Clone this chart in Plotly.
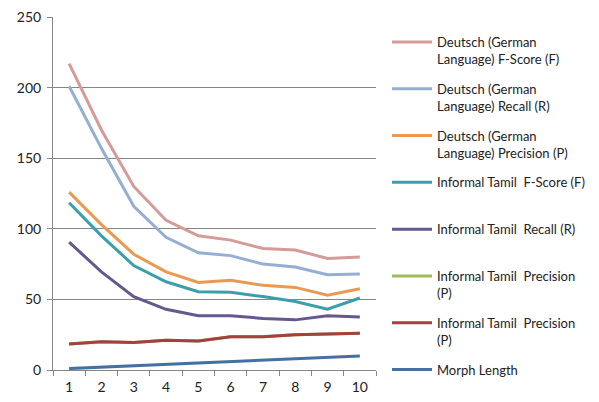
import plotly.graph_objects as go

# Morph length categories on the x axis
categories = ["1", "2", "3", "4", "5", "6", "7", "8", "9", "10"]

de_fscore = [217, 170, 130, 106, 95, 92, 86, 85, 79, 80]
de_recall = [201, 157, 116, 94, 83, 81, 75, 73, 67.5, 68]
de_precision = [126, 103, 82, 69.5, 62, 63.5, 60, 58.5, 53, 57.5]
ta_fscore = [118.5, 95, 74, 62.5, 55.5, 55, 52, 48.5, 43, 51]
ta_recall = [90.5, 69.5, 52, 43, 38.5, 38.5, 36.5, 35.5, 38.5, 37.5]
ta_precision_a = [18.5, 20, 19.5, 21, 20.5, 23.5, 23.5, 25, 25.5, 26]
ta_precision_b = [18.5, 20, 19.5, 21, 20.5, 23.5, 23.5, 25, 25.5, 26]
morph_length = [1, 2, 3, 4, 5, 6, 7, 8, 9, 10]

series = [
    ("Deutsch (German<br>Language) F-Score (F)", de_fscore, "#D59B99"),
    ("Deutsch (German<br>Language) Recall (R)", de_recall, "#95AED3"),
    ("Deutsch (German<br>Language) Precision (P)", de_precision, "#E99A50"),
    ("Informal Tamil  F-Score (F)<br> ", ta_fscore, "#3A9FAA"),
    ("Informal Tamil  Recall (R)<br> ", ta_recall, "#67578F"),
    ("Informal Tamil  Precision<br>(P)", ta_precision_a, "#9BBB59"),
    ("Informal Tamil  Precision<br>(P)", ta_precision_b, "#A6403E"),
    ("Morph Length<br> ", morph_length, "#44719F"),
]

fig = go.Figure()
for i, (name, vals, color) in enumerate(series):
    fig.add_trace(go.Scatter(
        x=categories, y=vals, name=name, mode="lines",
        line=dict(color=color, width=3),
        legendgroup=str(i),
    ))

font_family = "Lato, 'Open Sans', sans-serif"

fig.update_layout(
    width=599, height=402,
    margin=dict(l=53, r=223, t=17, b=32, autoexpand=False),
    paper_bgcolor="white", plot_bgcolor="white",
    font=dict(family=font_family, size=14, color="#222222"),
    showlegend=True,
    legend=dict(
        xref="container", yref="container",
        x=387 / 599, y=1 - 27 / 402,
        xanchor="left", yanchor="top",
        valign="top",
        font=dict(family=font_family, size=13, color="#222222"),
        tracegroupgap=10,
        itemwidth=40,
        maxheight=400,
        bgcolor="rgba(0,0,0,0)",
    ),
    xaxis=dict(
        type="category",
        range=[-0.5, 9.5],
        tickson="boundaries",
        ticks="outside", ticklen=5, tickcolor="#868686",
        showline=True, linecolor="#868686", linewidth=1,
        showgrid=False,
        automargin=False,
        ticklabelstandoff=4,
        tickfont=dict(size=14),
    ),
    yaxis=dict(
        range=[0, 250], dtick=50,
        ticks="outside", ticklen=5, tickcolor="#868686",
        showline=True, linecolor="#868686", linewidth=1,
        showgrid=True, gridcolor="#868686", gridwidth=1,
        zeroline=False,
        automargin=False,
        ticklabelstandoff=3,
        tickfont=dict(size=14),
    ),
)

fig.write_html("out.html")
